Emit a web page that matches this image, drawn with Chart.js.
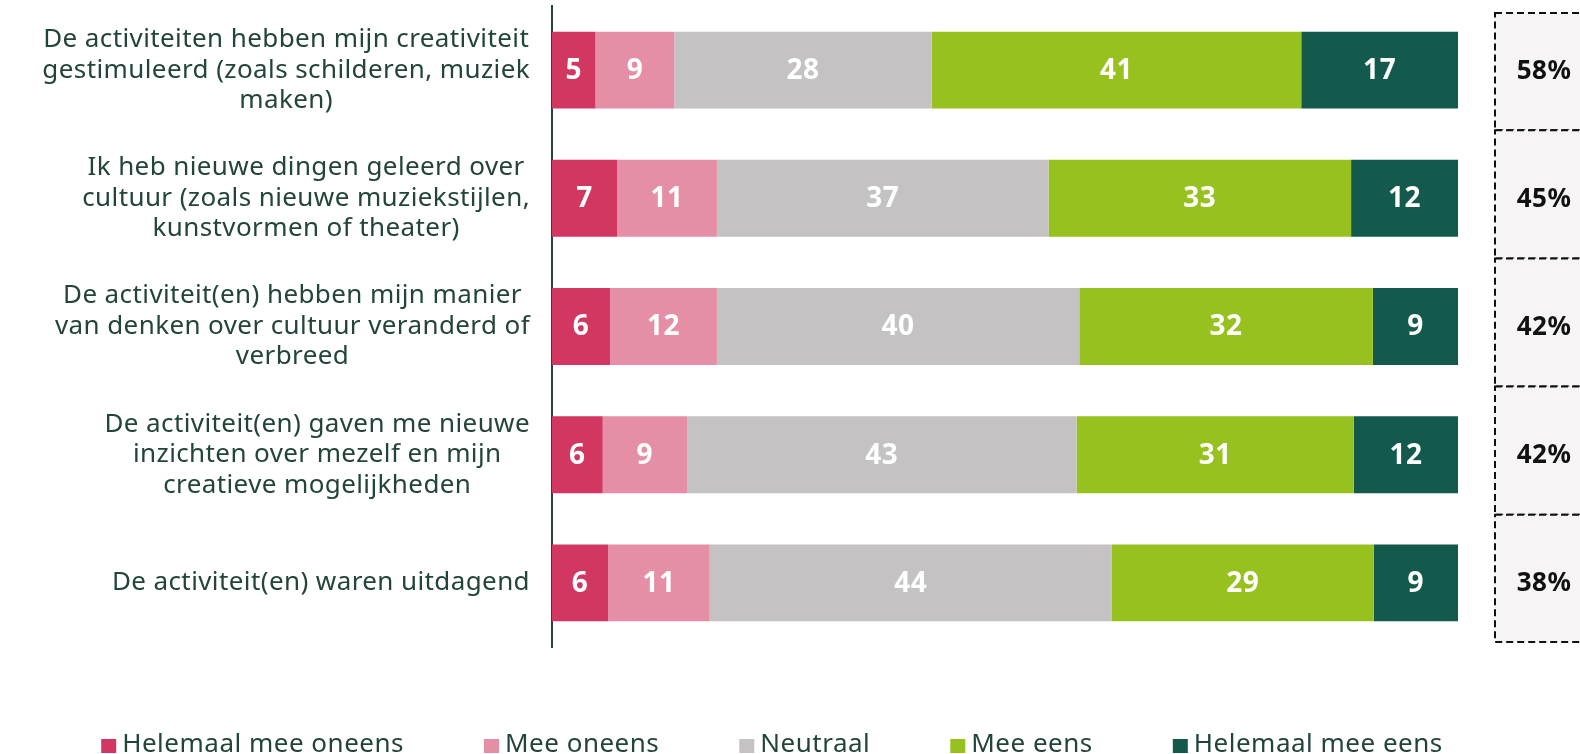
<!DOCTYPE html>
<html>
<head>
<meta charset="utf-8">
<script src="https://cdn.jsdelivr.net/npm/chart.js@4.4.1/dist/chart.umd.min.js"></script>
<style>
  html, body { margin: 0; padding: 0; background: #fff; }
</style>
</head>
<body>
<canvas id="my-chart" width="1580" height="754"></canvas>
<script>
// statements, one array of lines per bar
const statements = [
    ['De activiteiten hebben mijn creativiteit', 'gestimuleerd (zoals schilderen, muziek', 'maken)'],
    ['Ik heb nieuwe dingen geleerd over', 'cultuur (zoals nieuwe muziekstijlen,', 'kunstvormen of theater)'],
    ['De activiteit(en) hebben mijn manier', 'van denken over cultuur veranderd of', 'verbreed'],
    ['De activiteit(en) gaven me nieuwe', 'inzichten over mezelf en mijn', 'creatieve mogelijkheden'],
    ['De activiteit(en) waren uitdagend']
];

const seriesNames = ['Helemaal mee oneens', 'Mee oneens', 'Neutraal', 'Mee eens', 'Helemaal mee eens'];

const helemaalOneens = [4.8, 7.2, 6.4, 5.6, 6.2];
const meeOneens      = [8.7, 11.0, 11.8, 9.3, 11.2];
const neutraal       = [28.4, 36.6, 40.0, 43.0, 44.4];
const meeEens        = [40.8, 33.4, 32.4, 30.6, 28.9];
const helemaalEens   = [17.3, 11.8, 9.4, 11.5, 9.3];

const agreeTotals = ['58%', '45%', '42%', '42%', '38%'];

const colors = ['#d13761', '#e48fa5', '#c4c2c3', '#97c11f', '#135a4d'];
const textColor = '#22443b';
const fontFamily = '"Noto Sans", "Open Sans", sans-serif';

const allSeries = [helemaalOneens, meeOneens, neutraal, meeEens, helemaalEens];

// white numbers inside the bar segments
const barValues = {
    id: 'barValues',
    afterDatasetsDraw: chart => {
        const ctx = chart.ctx;
        ctx.save();
        ctx.fillStyle = '#ffffff';
        ctx.font = 'bold 28px ' + fontFamily;
        ctx.letterSpacing = '0.5px';
        ctx.textAlign = 'center';
        ctx.textBaseline = 'middle';
        chart.data.datasets.forEach((ds, di) => {
            const meta = chart.getDatasetMeta(di);
            meta.data.forEach((bar, i) => {
                const p = bar.getProps(['x', 'y', 'base'], true);
                ctx.fillText(Math.round(ds.data[i]), (p.x + p.base) / 2, p.y + 1);
            });
        });
        ctx.restore();
    }
};

// centered multi-line category labels left of the axis
const statementLabels = {
    id: 'statementLabels',
    afterDraw: chart => {
        const ctx = chart.ctx;
        const yAxis = chart.scales.y;
        const rightEdge = chart.chartArea.left - 22;
        const lineHeight = 30.5;
        ctx.save();
        ctx.font = '26px ' + fontFamily;
        ctx.letterSpacing = '0.4px';
        ctx.fillStyle = textColor;
        ctx.textAlign = 'center';
        ctx.textBaseline = 'middle';
        statements.forEach((lines, i) => {
            const cy = yAxis.getPixelForValue(i);
            const widest = Math.max(...lines.map(l => ctx.measureText(l).width));
            const cx = rightEdge - widest / 2;
            const startY = cy - (lines.length - 1) * lineHeight / 2;
            lines.forEach((l, k) => ctx.fillText(l, cx, startY + k * lineHeight));
        });
        ctx.restore();
    }
};

// dashed boxes with the share that agrees
const agreeBoxes = {
    id: 'agreeBoxes',
    afterDraw: chart => {
        const ctx = chart.ctx;
        const area = chart.chartArea;
        const yAxis = chart.scales.y;
        const band = (area.bottom - area.top) / statements.length;
        const x0 = area.right + 37;
        const x1 = chart.width + 20;
        ctx.save();
        agreeTotals.forEach((t, i) => {
            const cy = yAxis.getPixelForValue(i);
            const y0 = Math.max(cy - band / 2 - 4, area.top + 7);
            const y1 = Math.min(cy + band / 2 - 4, area.bottom - 5);
            ctx.fillStyle = '#f6f4f5';
            ctx.fillRect(x0, y0, x1 - x0, y1 - y0);
            ctx.setLineDash([7, 4]);
            ctx.lineWidth = 2;
            ctx.strokeStyle = '#111111';
            ctx.strokeRect(x0, y0, x1 - x0, y1 - y0);
            ctx.setLineDash([]);
            ctx.fillStyle = '#111111';
            ctx.font = 'bold 26px ' + fontFamily;
            ctx.letterSpacing = '0.5px';
            ctx.textAlign = 'center';
            ctx.textBaseline = 'middle';
            ctx.fillText(t, x0 + 49, cy + 1);
        });
        ctx.restore();
    }
};

// legend row at the bottom
const bottomLegend = {
    id: 'bottomLegend',
    afterDraw: chart => {
        const ctx = chart.ctx;
        const box = 15, gap = 6, spacing = 80;
        ctx.save();
        ctx.font = '26px ' + fontFamily;
        ctx.letterSpacing = '0.5px';
        ctx.textBaseline = 'middle';
        ctx.textAlign = 'left';
        const items = chart.data.datasets.map(ds => ({
            label: ds.label,
            color: ds.backgroundColor,
            w: box + gap + ctx.measureText(ds.label).width
        }));
        const total = items.reduce((s, it) => s + it.w, 0) + spacing * (items.length - 1);
        let x = 772 - total / 2;
        const y = 745;
        items.forEach(it => {
            ctx.fillStyle = it.color;
            ctx.fillRect(x, y - 6, box, 14);
            ctx.fillStyle = textColor;
            ctx.fillText(it.label, x + box + gap, y);
            x += it.w + spacing;
        });
        ctx.restore();
    }
};

const ctxEl = document.getElementById('my-chart').getContext('2d');

new Chart(ctxEl, {
    type: 'bar',
    data: {
        labels: statements,
        datasets: allSeries.map((s, i) => ({
            label: seriesNames[i],
            data: s,
            backgroundColor: colors[i],
            borderWidth: 0,
            barPercentage: 0.6,
            categoryPercentage: 1.0
        }))
    },
    options: {
        indexAxis: 'y',
        responsive: false,
        animation: false,
        layout: { padding: { top: 6, right: 122, bottom: 107, left: 0 } },
        plugins: {
            legend: { display: false },
            tooltip: { enabled: false }
        },
        scales: {
            x: {
                stacked: true,
                min: 0,
                max: 100,
                display: false
            },
            y: {
                stacked: true,
                grid: { display: false, drawTicks: false },
                border: { display: true, color: '#22443b', width: 2 },
                ticks: { display: false },
                afterFit: scale => { scale.width = 552; }
            }
        }
    },
    plugins: [barValues, statementLabels, agreeBoxes, bottomLegend]
});
</script>
</body>
</html>
